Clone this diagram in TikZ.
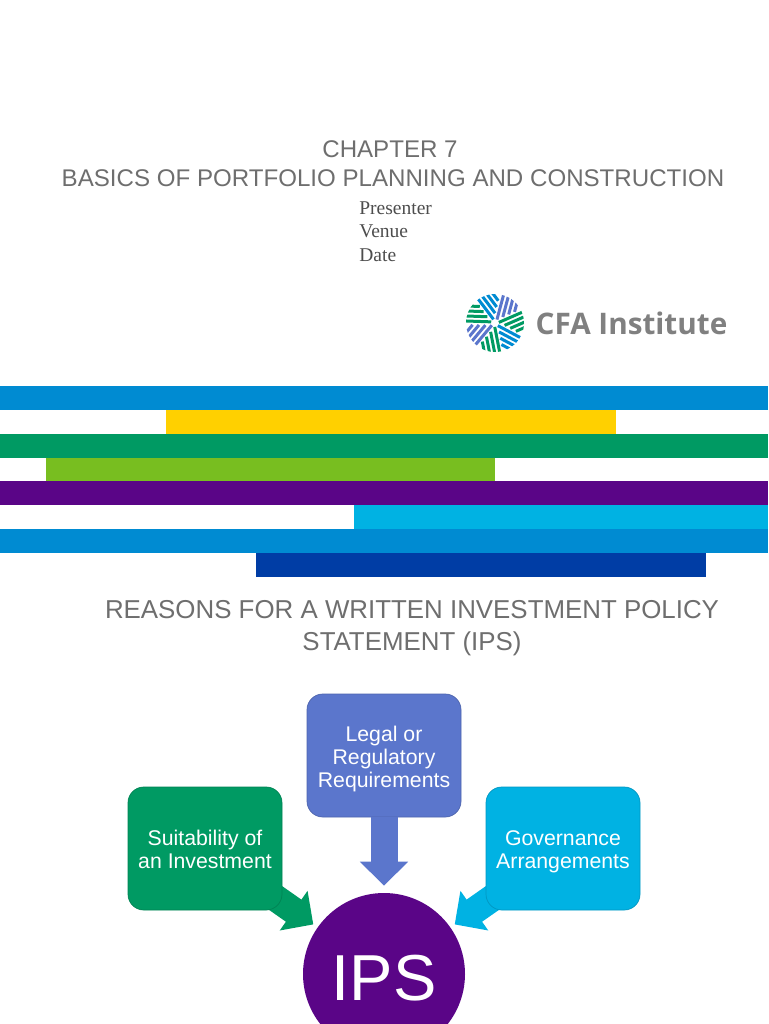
\documentclass[tikz,border=0pt]{standalone}
\usepackage{fontspec}
\setmainfont{Liberation Sans}
\newfontfamily\serifpart{Liberation Serif}
\newfontfamily\logofont{Open Sans}
\usetikzlibrary{arrows.meta}
\definecolor{cfablue}{HTML}{008BD2}
\definecolor{cfayellow}{HTML}{FFD000}
\definecolor{cfagreen}{HTML}{009A63}
\definecolor{cfalime}{HTML}{78BE20}
\definecolor{cfapurple}{HTML}{5A0587}
\definecolor{cfacyan}{HTML}{00B2E3}
\definecolor{cfanavy}{HTML}{003DA5}
\definecolor{cfaperi}{HTML}{5B76CC}
\definecolor{titlegray}{HTML}{6E6E6E}
\newcommand{\boxstart}{\rule{0pt}{12.4pt}}
\newcommand{\boxend}{\rule[-2.6pt]{0pt}{0pt}}
\tikzset{
  headline/.style={text=titlegray,font=\fontsize{13.72}{16}\selectfont,inner sep=0pt},
  subline/.style={text=titlegray!70!black,font=\serifpart\fontsize{11.1}{13}\selectfont,anchor=west,inner sep=0pt},
  reasonbox/.style={rounded corners=9pt,minimum width=154*0.02cm,minimum height=123*0.02cm,align=center,text=white,
    inner sep=0pt,font=\fontsize{12.1}{13.1}\selectfont},
  blockarrow/.style={line width=27*0.02cm,-{Triangle[width=47*0.02cm,length=24*0.02cm]}},
}
\begin{document}
\begin{tikzpicture}[x=0.02cm,y=-0.02cm]
\useasboundingbox (0,0) rectangle (768,1024);
\node[headline] (chapter) at (390,149) {CHAPTER 7};
\node[headline] (basics) at (393,178) {BASICS OF PORTFOLIO PLANNING AND CONSTRUCTION};
\node[subline] (presenter) at (359,208.4) {Presenter};
\node[subline] (venue) at (359,231.4) {Venue};
\node[subline] (date) at (359,255.4) {Date};
% logo
\begin{scope}[shift={(495,323)}]
\clip (0,0) circle (29);
\foreach \a/\c in {75/cfaperi,23.6/cfagreen,-28/cfablue,-79/cfagreen,-130/cfaperi,-182/cfagreen,127/cfablue} {
  \begin{scope}[rotate=\a]
  \foreach \o in {1,6,11,16} {\draw[\c,line width=3*0.02cm] ({0.8*\o+3},\o)--(30,\o);}
  \end{scope}
}
\end{scope}
\node[text=gray,font=\logofont\bfseries\fontsize{16.9}{20}\selectfont,inner sep=0pt] (logotext) at (631.5,323) {CFA Institute};
% stripes
\foreach \l/\t/\r/\c in {0/386/768/cfablue,166/410/616/cfayellow,0/434/768/cfagreen,46/458/495/cfalime,0/481/768/cfapurple,354/505/768/cfacyan,0/529/768/cfablue,256/553/706/cfanavy} {
  \fill[\c] (\l,\t) rectangle (\r,\t+23.5);
}
\node[headline,align=center,font=\fontsize{14.73}{18.1}\selectfont] (reasons) at (412,628) {REASONS FOR A WRITTEN INVESTMENT POLICY\\STATEMENT (IPS)};
% diagram
\node[circle,fill=cfapurple,minimum size=162*0.02cm,inner sep=0pt,text=white,font=\fontsize{37}{40}\selectfont] (ips) at (384,974) {\rule{0pt}{31pt}IPS};
\coordinate (suitcenter) at (205,848.5);
\coordinate (govcenter) at (563,848.5);
\draw[blockarrow,cfagreen,shorten >=5*0.02cm] (suitcenter) -- (ips);
\draw[blockarrow,cfacyan,shorten >=5*0.02cm] (govcenter) -- (ips);
\node[reasonbox,fill=cfaperi,draw=cfaperi!85!black,line width=0.4pt] (legal) at (384,755.5) {\boxstart Legal or\\Regulatory\\Requirements\boxend};
\draw[blockarrow,cfaperi,shorten >=7*0.02cm] (legal) -- (ips);
\node[reasonbox,fill=cfagreen,draw=cfagreen!85!black,line width=0.4pt] (suit) at (suitcenter) {\boxstart Suitability of\\an Investment\boxend};
\node[reasonbox,fill=cfacyan,draw=cfacyan!85!black,line width=0.4pt] (gov) at (govcenter) {\boxstart Governance\\Arrangements\boxend};
\end{tikzpicture}
\end{document}
